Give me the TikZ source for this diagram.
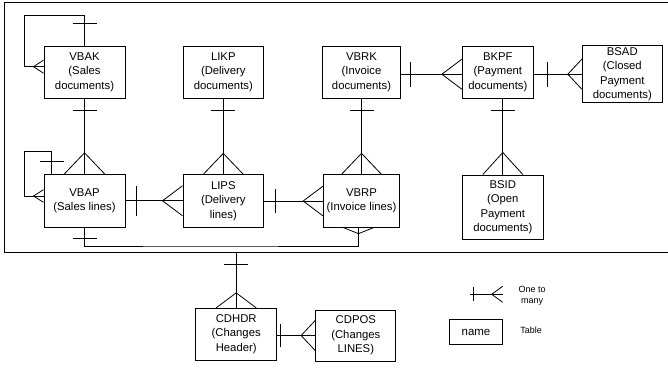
\documentclass[tikz,border=0pt]{standalone}
\usepackage{fontspec}
\setmainfont{Liberation Sans}

\tikzset{
  table/.style = {draw, line width = 1pt, align = center, inner sep = 0pt,
    font = \fontsize{11.3}{14.5}\selectfont},
  note/.style = {align = center, font = \fontsize{9}{11}\selectfont},
  link/.style = {line width = 0.8pt}
}

\begin{document}
\begin{tikzpicture}[x = 1pt, y = -1pt, link]
    \useasboundingbox (0,0) rectangle (668,368);
    \coordinate (TR) at (668,2.7);
    \coordinate (BL) at (4.3,252.3);
    \draw (TR) -| (BL) -- (BL -| TR);

    % tables
    \node (vbak) at (84.5,72) [table, minimum width = 81pt, minimum height = 52pt] {VBAK\\(Sales\\documents)};
    \node (likp) at (223.3,72) [table, minimum width = 80.6pt, minimum height = 52pt] {LIKP\\(Delivery\\documents)};
    \node (vbrk) at (361.5,72) [table, minimum width = 77.3pt, minimum height = 52pt] {VBRK\\(Invoice\\documents)};
    \node (bkpf) at (497.8,72) [table, minimum width = 71pt, minimum height = 52pt] {BKPF\\(Payment\\documents)};
    \node (bsad) at (622.3,74.2) [table, minimum width = 80pt, minimum height = 57pt] {BSAD\\(Closed\\Payment\\documents)};
    \node (vbap) at (84.5,200.8) [table, minimum width = 81pt, minimum height = 53pt] {VBAP\\(Sales lines)};
    \node (lips) at (223.3,201) [table, minimum width = 80.6pt, minimum height = 52.3pt] {LIPS\\(Delivery\\lines)};
    \node (vbrp) at (361.5,201) [table, minimum width = 75.7pt, minimum height = 52.3pt] {VBRP\\(Invoice lines)};
    \node (bsid) at (502.8,207) [table, minimum width = 81pt, minimum height = 64pt] {BSID\\(Open\\Payment\\documents)};
    \node (cdhdr) at (236.2,334.2) [table, minimum width = 81pt, minimum height = 51.7pt] {CDHDR\\(Changes\\Header)};
    \node (cdpos) at (355.8,335.5) [table, minimum width = 80.3pt, minimum height = 51pt] {CDPOS\\(Changes\\LINES)};

    % VBAK - VBAP
    \draw (vbak.south) -- (vbap.north);
    \draw (vbak.south) ++(-12,12) -- ++(24,0);
    \draw (vbap.north) ++(-20,0) -- ++(20,-21) -- ++(20,21);

    % LIKP - LIPS
    \draw (likp.south) -- (lips.north);
    \draw (likp.south) ++(-12,12) -- ++(24,0);
    \draw (lips.north) ++(-20,0) -- ++(20,-21) -- ++(20,21);

    % VBRK - VBRP
    \draw (vbrk.south) -- (vbrp.north);
    \draw (vbrk.south) ++(-12,12) -- ++(24,0);
    \draw (vbrp.north) ++(-20,0) -- ++(20,-21) -- ++(20,21);

    % BKPF - BSID
    \draw (bsid.north |- bkpf.south) -- (bsid.north);
    \draw (bsid.north |- bkpf.south) ++(-12,12) -- ++(24,0);
    \draw (bsid.north) ++(-20,0) -- ++(20,-22) -- ++(20,22);

    % VBRK - BKPF
    \draw (vbrk.east |- bsad.west) -- (bkpf.west |- bsad.west);
    \draw (vbrk.east |- bsad.west) ++(10,-12.5) -- ++(0,25);
    \draw (bkpf.west |- bsad.west) ++(0,-15) -- ++(-20,15) -- ++(20,15);

    % BKPF - BSAD
    \draw (bkpf.east |- bsad.west) -- (bsad.west);
    \draw (bkpf.east |- bsad.west) ++(14,-12.5) -- ++(0,25);
    \draw (bsad.west) ++(0,-15) -- ++(-14,15) -- ++(14,15);

    % VBAP - LIPS
    \draw (vbap.east) -- (vbap.east -| lips.west);
    \draw (vbap.east) ++(11,-15) -- ++(0,30);
    \draw (vbap.east -| lips.west) ++(0,-15) -- ++(-20,15) -- ++(20,15);

    % LIPS - VBRP
    \draw (lips.east) -- (lips.east -| vbrp.west);
    \draw (lips.east) ++(11,-12) -- ++(0,24);
    \draw (lips.east -| vbrp.west) ++(0,-15) -- ++(-20,15) -- ++(20,15);

    % VBAK self loop
    \coordinate (vbakloop) at (24.3,15);
    \draw (vbak.north) |- (vbakloop) |- ([yshift=5.3pt]vbak.west);
    \draw (vbak.north) ++(-12,-22) -- ++(24,0);
    \draw ([yshift=5.3pt]vbak.west) ++(0,-6.5) -- ++(-10,6.5) -- ++(10,6.5);

    % VBAP self loop
    \coordinate (vbaploop) at (24.3,151);
    \draw ([xshift=8.3pt]vbap.north west) |- (vbaploop) |- ([yshift=4.8pt]vbap.west);
    \draw ([xshift=8.3pt]vbap.north west) ++(-12,-12) -- ++(24,0);
    \draw ([yshift=4.8pt]vbap.west) ++(0,-6.3) -- ++(-10,6.3) -- ++(10,6.3);

    % VBAP - VBRP
    \coordinate (bus) at (200,246);
    \draw (vbap.south) |- (bus) -| ([xshift=-3pt]vbrp.south);
    \draw (vbap.south) ++(-12,10.4) -- ++(24,0);
    \draw ([xshift=-3pt]vbrp.south) ++(-15,0) -- ++(15,6) -- ++(15,-6);

    % frame - CDHDR
    \draw (BL -| cdhdr.north) -- (cdhdr.north);
    \draw (BL -| cdhdr.north) ++(-12,12) -- ++(24,0);
    \draw (cdhdr.north) ++(-20,0) -- ++(20,-15) -- ++(20,15);

    % CDHDR - CDPOS
    \draw (cdhdr.east |- cdpos.west) -- (cdpos.west);
    \draw (cdhdr.east |- cdpos.west) ++(3.5,-11.7) -- ++(0,23.4);
    \draw (cdpos.west) ++(0,-15) -- ++(-14,15) -- ++(14,15);

    % legend
    \coordinate (legA) at (470,294.3);
    \coordinate (legB) at (502.7,294.3);
    \draw (legA) -- (legB);
    \draw (legA) ++(3.3,-7) -- ++(0,14);
    \draw (legB) ++(0,-8) -- ++(-11,8) -- ++(11,8);
    \node (legendone) at (532,296) [note] {One to\\many};
    \node (legendbox) at (476,332) [table, minimum width = 53.4pt, minimum height = 25.7pt, font = \fontsize{11.5}{14}\selectfont] {name};
    \node (legendtable) at (531,330) [note] {Table};
\end{tikzpicture}
\end{document}
